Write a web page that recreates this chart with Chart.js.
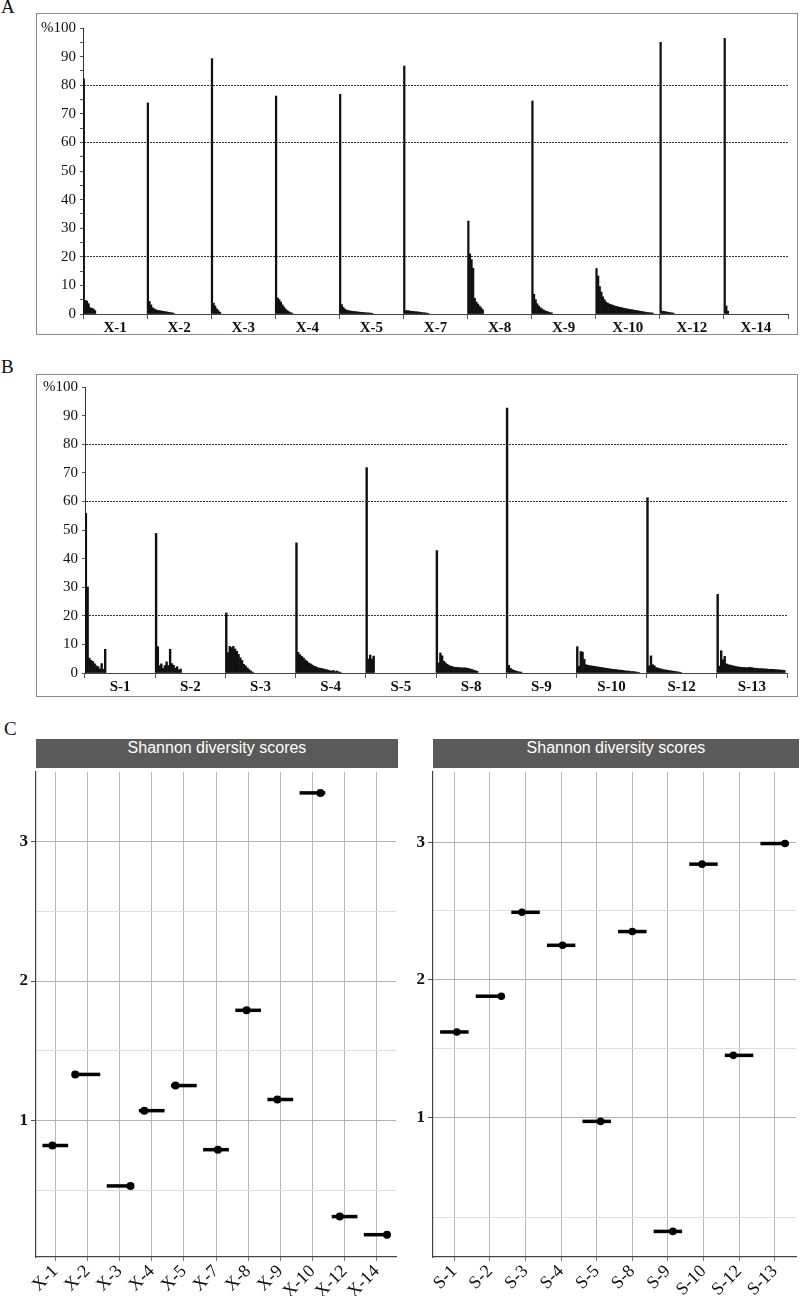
<!DOCTYPE html>
<html>
<head>
<meta charset="utf-8">
<script src="https://cdn.jsdelivr.net/npm/chart.js@4.4.1/dist/chart.umd.min.js"></script>
<style>
  body { margin: 0; background: #fff; }
  #page { position: relative; width: 800px; height: 1296px; overflow: hidden; background: #fff; }
  .frame { position: absolute; border: 1.5px solid #8a8a8a; box-sizing: border-box; }
  .tag { position: absolute; font: 19px "Liberation Serif", serif; line-height: 19px; color: #111; }
  .strip { position: absolute; height: 29px; line-height: 29px; background: #5a5a5a; color: #fff;
           font: 16px "Liberation Sans", Arial, sans-serif; text-align: center; }
  canvas { position: absolute; }
</style>
</head>
<body>
<div id="page">
  <div class="tag" style="left:1px;top:-3px">A</div>
  <div class="frame" style="left:36px;top:13px;width:762px;height:322px"></div>
  <canvas id="chartA" width="760" height="318" style="left:37px;top:15px"></canvas>

  <div class="tag" style="left:1px;top:357px">B</div>
  <div class="frame" style="left:36px;top:374px;width:762px;height:323px"></div>
  <canvas id="chartB" width="760" height="319" style="left:37px;top:376px"></canvas>

  <div class="tag" style="left:4px;top:719px">C</div>
  <div class="strip" style="left:36px;top:739px;width:362px">Shannon diversity scores</div>
  <canvas id="chartCX" width="400" height="528" style="left:0px;top:768px"></canvas>
  <div class="strip" style="left:433px;top:739px;width:366px">Shannon diversity scores</div>
  <canvas id="chartCS" width="400" height="528" style="left:400px;top:768px"></canvas>
</div>

<script>
// ---- panel A: relative abundance per sample (%), ranked
const groupsA = ["X-1", "X-2", "X-3", "X-4", "X-5", "X-7", "X-8", "X-9", "X-10", "X-12", "X-14"];
const x1Bars = [82.2, 4.8, 4.5, 3.6, 2.2, 2.0, 1.8, 1.2];
const x2Bars = [73.8, 4.4, 3.2, 2.2, 1.8, 1.5, 1.3, 1.2, 1.1, 1.0, 0.9, 0.8, 0.7, 0.6, 0.5, 0.4, 0.3];
const x3Bars = [89.3, 3.8, 2.8, 1.8, 1.2, 0.6];
const x4Bars = [76.2, 5.6, 5.0, 4.2, 3.2, 2.4, 1.7, 1.2, 0.8, 0.5, 0.3];
const x5Bars = [76.8, 3.3, 2.3, 1.7, 1.4, 1.2, 1.1, 1.0, 0.9, 0.85, 0.8, 0.7, 0.65, 0.6, 0.55, 0.5, 0.45, 0.4, 0.35, 0.3, 0.25];
const x7Bars = [86.7, 1.2, 1.15, 1.1, 1.0, 0.95, 0.9, 0.8, 0.75, 0.7, 0.6, 0.5, 0.45, 0.4, 0.3, 0.2];
const x8Bars = [32.5, 21.0, 19.0, 16.0, 5.5, 4.2, 3.5, 2.8, 2.2, 1.5];
const x9Bars = [74.5, 6.9, 5.0, 3.6, 2.8, 2.2, 1.8, 1.4, 1.1, 0.9, 0.7, 0.5, 0.4];
const x10Bars = [15.9, 13.3, 9.6, 7.7, 6.0, 5.0, 4.2, 3.8, 3.5, 3.3, 3.1, 2.9, 2.7, 2.6, 2.4, 2.3, 2.2, 2.0,
                 1.9, 1.8, 1.7, 1.6, 1.5, 1.4, 1.3, 1.2, 1.1, 1.0, 0.9, 0.8, 0.7, 0.6, 0.5, 0.45, 0.4, 0.35];
const x12Bars = [95.0, 1.0, 0.9, 0.8, 0.7, 0.6, 0.5, 0.4, 0.3];
const x14Bars = [96.4, 2.8, 1.0];

// ---- panel B
const groupsB = ["S-1", "S-2", "S-3", "S-4", "S-5", "S-8", "S-9", "S-10", "S-12", "S-13"];
const s1Bars = [55.8, 30.1, 5.2, 4.4, 4.0, 3.2, 2.5, 2.2, 1.4, 3.3, 1.3, 8.3];
const s2Bars = [48.8, 9.2, 2.6, 3.2, 1.6, 2.6, 3.9, 2.6, 8.3, 3.3, 2.7, 1.7, 2.2, 1.1, 1.4];
const s3Bars = [21.0, 7.1, 9.3, 8.9, 9.3, 8.4, 7.6, 6.5, 5.3, 4.4, 3.0, 2.5, 1.8, 1.2, 0.7, 0.3];
const s4Bars = [45.5, 7.2, 6.4, 5.8, 5.3, 4.6, 4.1, 3.5, 3.2, 2.8, 2.4, 2.2, 1.9, 1.7, 1.6, 1.5, 1.3, 1.2,
                1.0, 0.8, 0.7, 0.9, 0.5, 0.7, 0.4, 0.3];
const s5Bars = [71.8, 4.9, 6.3, 4.9, 5.9];
const s8Bars = [42.8, 3.5, 7.0, 6.0, 4.1, 3.5, 3.0, 2.6, 2.4, 2.2, 2.0, 2.0, 1.9, 1.9, 1.8, 1.8, 1.8, 1.7,
                1.6, 1.4, 1.2, 1.0, 0.8, 0.6];
const s9Bars = [92.6, 2.7, 1.6, 1.2, 0.9, 0.7, 0.5, 0.4, 0.3];
const s10Bars = [9.2, 2.4, 7.5, 7.3, 4.8, 2.9, 2.7, 2.6, 2.5, 2.4, 2.3, 2.2, 2.1, 2.0, 1.9, 1.8, 1.7, 1.6,
                 1.5, 1.4, 1.3, 1.3, 1.2, 1.1, 1.0, 1.0, 0.9, 0.8, 0.7, 0.7, 0.6, 0.5, 0.5, 0.4, 0.3, 0.2];
const s12Bars = [61.3, 2.5, 6.0, 2.9, 2.5, 1.9, 1.7, 1.5, 1.4, 1.2, 1.1, 1.0, 0.9, 0.8, 0.7, 0.6, 0.5, 0.4, 0.3, 0.2];
const s13Bars = [27.5, 2.4, 7.8, 4.6, 5.8, 3.2, 2.9, 2.8, 2.6, 2.5, 2.3, 2.2, 2.1, 2.0, 2.0, 1.9, 1.9, 1.8,
                 2.0, 1.9, 1.8, 1.7, 1.6, 1.6, 1.5, 1.5, 1.5, 1.4, 1.4, 1.3, 1.3, 1.3, 1.2, 1.2, 1.1, 1.1, 1.0, 1.0, 0.9];

const dashedLevels = [20, 60, 80];

// ---- panel C: Shannon diversity
const shannonX = [0.82, 1.33, 0.53, 1.07, 1.25, 0.79, 1.79, 1.15, 3.35, 0.31, 0.18];
const dotShiftX = [-0.09, -0.38, 0.34, -0.23, -0.26, 0.06, -0.05, -0.09, 0.25, -0.15, 0.32];
const yTicksX = [0.5, 1, 1.5, 2, 2.5, 3];

const shannonS = [1.62, 1.88, 2.49, 2.25, 0.97, 2.35, 0.17, 2.84, 1.45, 2.99];
const dotShiftS = [0.07, 0.32, -0.10, 0.04, 0.11, 0.0, 0.14, -0.04, -0.16, 0.29];
const yTicksS = [0.27, 1, 1.5, 2, 2.5, 3];

const SERIF = '"Liberation Serif", "Times New Roman", serif';
const SLOTS = 40; // bar slots per sample group

function spread(groupBars) {
  const values = [];
  groupBars.forEach((g) => {
    for (let i = 0; i < SLOTS; i++) values.push(i < g.length ? g[i] : null);
  });
  return values;
}

function zeroPad(s) {
  s.paddingTop = 0;
  s.paddingBottom = 0;
  s.paddingLeft = 0;
  s.paddingRight = 0;
}

function makeBarChart(canvasId, groups, groupBars, box) {
  const values = spread(groupBars);
  const slotLabels = values.map((_, i) => groups[Math.floor(i / SLOTS)] + "#" + (i % SLOTS));

  return new Chart(document.getElementById(canvasId), {
    type: "bar",
    data: {
      labels: slotLabels,
      datasets: [
        {
          data: values,
          xAxisID: "x",
          yAxisID: "y",
          backgroundColor: "#111",
          borderWidth: 0,
          barPercentage: 1,
          categoryPercentage: 1,
        },
      ],
    },
    options: {
      responsive: false,
      animation: false,
      events: [],
      layout: { padding: { left: 0, top: box.top, right: box.right, bottom: 0 } },
      plugins: { legend: { display: false }, tooltip: { enabled: false } },
      scales: {
        x: { display: false, afterFit: zeroPad },
        g: {
          type: "category",
          position: "bottom",
          labels: groups,
          offset: true,
          grid: { offset: true, drawOnChartArea: false, drawTicks: true, tickLength: 5, tickColor: "#555" },
          border: { display: true, color: "#444", width: 1 },
          ticks: {
            autoSkip: false,
            maxRotation: 0,
            padding: 0,
            color: "#111",
            font: { family: SERIF, size: 15, weight: "bold" },
          },
          afterFit: (s) => {
            zeroPad(s);
            s.height = box.xH;
          },
        },
        y: {
          min: 0,
          max: 100,
          ticks: {
            stepSize: box.step,
            autoSkip: false,
            padding: 4,
            color: "#111",
            font: { family: SERIF, size: 15 },
            callback: (v) => (v % 10 ? "" : v === 100 ? "%100" : v),
          },
          grid: {
            color: (c) => (c.tick && dashedLevels.includes(c.tick.value) ? "#333" : "transparent"),
            lineWidth: 1,
            tickLength: 3,
            tickColor: "#555",
          },
          border: { display: true, color: "#333", width: 1, dash: [2, 1] },
          afterFit: (s) => {
            zeroPad(s);
            s.width = box.yW;
          },
        },
      },
    },
  });
}

function makeDotChart(canvasId, groups, scores, dotShift, yTicks, box) {
  const segPts = scores.map((v, i) => ({ x: i, y: v }));
  const dotPts = scores.map((v, i) => ({ x: i + dotShift[i], y: v }));
  const halfWidth = (c) => {
    const sx = c.chart.scales.x;
    return sx.getPixelForValue(0.4) - sx.getPixelForValue(0);
  };

  return new Chart(document.getElementById(canvasId), {
    type: "scatter",
    data: {
      datasets: [
        { data: dotPts, pointStyle: "circle", pointRadius: box.dotR, backgroundColor: "#000", borderColor: "#000", borderWidth: 0 },
        { data: segPts, pointStyle: "line", pointRadius: halfWidth, borderColor: "#000", borderWidth: 3.5 },
      ],
    },
    options: {
      responsive: false,
      animation: false,
      events: [],
      layout: { padding: { left: 0, top: 0, right: box.right, bottom: 0 } },
      plugins: { legend: { display: false }, tooltip: { enabled: false } },
      scales: {
        x: {
          type: "linear",
          min: -0.6,
          max: groups.length - 0.4,
          afterBuildTicks: (s) => {
            s.ticks = groups.map((_, i) => ({ value: i }));
          },
          ticks: {
            autoSkip: false,
            minRotation: 45,
            maxRotation: 45,
            padding: 0,
            color: "#111",
            font: { family: SERIF, size: 18 },
            callback: (v) => groups[v],
          },
          grid: { color: "#b8b8b8", lineWidth: 1, tickLength: 4, tickColor: "#777" },
          border: { display: true, color: "#444", width: 1.2 },
          afterFit: (s) => {
            zeroPad(s);
            s.height = box.xH;
          },
        },
        y: {
          min: box.yMin,
          max: box.yMax,
          afterBuildTicks: (s) => {
            s.ticks = yTicks.map((v) => ({ value: v }));
          },
          ticks: {
            padding: 3,
            color: "#111",
            font: { family: SERIF, size: 17, weight: "bold" },
            callback: (v) => (Number.isInteger(v) ? v : ""),
          },
          grid: {
            color: (c) => (c.tick && Number.isInteger(c.tick.value) ? "#b3b3b3" : "#dedede"),
            lineWidth: 1,
            tickLength: 5,
            tickColor: (c) => (c.tick && Number.isInteger(c.tick.value) ? "#555" : "transparent"),
          },
          border: { display: true, color: "#444", width: 1.2 },
          afterFit: (s) => {
            zeroPad(s);
            s.width = box.yW;
          },
        },
      },
    },
  });
}

makeBarChart("chartA", groupsA,
  [x1Bars, x2Bars, x3Bars, x4Bars, x5Bars, x7Bars, x8Bars, x9Bars, x10Bars, x12Bars, x14Bars],
  { top: 13, right: 9, yW: 46, xH: 19, step: 5 });

makeBarChart("chartB", groupsB,
  [s1Bars, s2Bars, s3Bars, s4Bars, s5Bars, s8Bars, s9Bars, s10Bars, s12Bars, s13Bars],
  { top: 11, right: 10, yW: 48, xH: 22, step: 10 });

makeDotChart("chartCX", groupsA, shannonX, dotShiftX, yTicksX,
  { right: 2, yW: 36, xH: 39, yMin: 0.02, yMax: 3.5, dotR: 4 });

makeDotChart("chartCS", groupsB, shannonS, dotShiftS, yTicksS,
  { right: 1, yW: 33, xH: 39, yMin: -0.016, yMax: 3.51, dotR: 3.8 });
</script>
</body>
</html>
